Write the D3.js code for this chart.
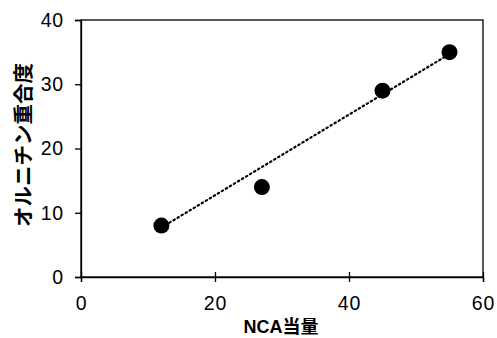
<!DOCTYPE html>
<html><head><meta charset="utf-8">
<script src="https://cdn.jsdelivr.net/npm/d3@7"></script>
<style>body{margin:0;background:#fff}svg{display:block}</style>
</head><body>
<script>
const xValues = [12, 27, 45, 55];
const yValues = [8, 14, 29, 35];
const trendX = [12, 55];
const trendY = [7.7, 34.7];
const xTicks = [0, 20, 40, 60];
const yTicks = [0, 10, 20, 30, 40];
const xTitle = "NCA当量";
const yTitle = "オルニチン重合度";

const W = 497, H = 338;
const m = {left: 81, right: 14, top: 20, bottom: 61};
const svg = d3.select("body").append("svg").attr("width", W).attr("height", H);
const x = d3.scaleLinear().domain([0, 60]).range([m.left, W - m.right]);
const y = d3.scaleLinear().domain([0, 40]).range([H - m.bottom, m.top]);
const font = "'Liberation Sans', Arial, 'Noto Sans CJK JP', sans-serif";

// frame
svg.append("rect").attr("x", x(0)).attr("y", y(40)).attr("width", x(60) - x(0)).attr("height", y(0) - y(40))
  .attr("fill", "none").attr("stroke", "#000").attr("stroke-width", 1.3);

const xa = svg.append("g").attr("transform", `translate(0,${y(0)})`)
  .call(d3.axisBottom(x).tickValues(xTicks).tickSize(5).tickPadding(14));
xa.selectAll(".tick line").attr("y1", -5).attr("y2", 5);
const ya = svg.append("g").attr("transform", `translate(${x(0)},0)`)
  .call(d3.axisLeft(y).tickValues(yTicks).tickSize(6).tickPadding(11));
[xa, ya].forEach(g => {
  g.select(".domain").attr("stroke", "#000").attr("stroke-width", 1.3);
  g.selectAll(".tick line").attr("stroke", "#000").attr("stroke-width", 1.3);
  g.selectAll("text").attr("font-family", font).attr("font-size", 19.5).attr("letter-spacing", "0.8px").attr("fill", "#000");
});

// trendline
svg.append("line").attr("x1", x(trendX[0])).attr("y1", y(trendY[0]))
  .attr("x2", x(trendX[1])).attr("y2", y(trendY[1]))
  .attr("stroke", "#000").attr("stroke-width", 2.2).attr("stroke-dasharray", "1.5,3.2").attr("stroke-linecap", "round");

svg.selectAll("circle.pt").data(xValues).enter().append("circle")
  .attr("cx", d => x(d)).attr("cy", (d, i) => y(yValues[i])).attr("r", 8).attr("fill", "#000");

svg.append("text").attr("x", 281).attr("y", 333).attr("text-anchor", "middle")
  .attr("font-family", font).attr("font-weight", "bold").attr("font-size", 18).text(xTitle);
svg.append("text").attr("transform", `translate(31,145) rotate(-90)`).attr("text-anchor", "middle")
  .attr("font-family", font).attr("font-weight", "bold").attr("font-size", 20.5).text(yTitle);
</script>
</body></html>
